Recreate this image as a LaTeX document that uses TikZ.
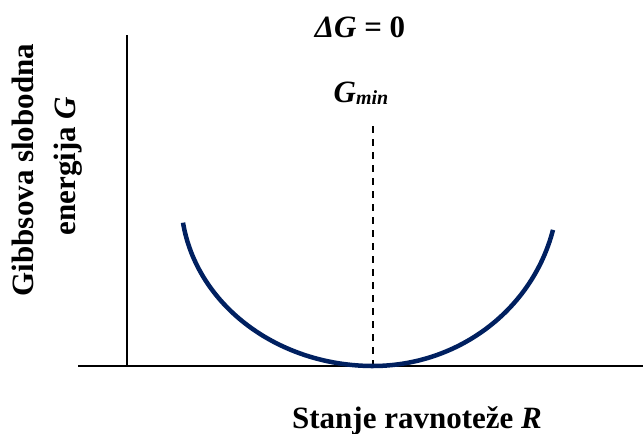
\documentclass[tikz,border=0pt]{standalone}
\usepackage{fontspec}
\setmainfont{Liberation Serif}
\definecolor{curvenavy}{RGB}{0,32,96}
\begin{document}
\begin{tikzpicture}[x=1pt,y=-1pt,
  lbl/.style={font=\fontsize{31}{36}\selectfont\bfseries, inner sep=0pt, anchor=base},
  axisline/.style={line width=1.6pt, black},
  guideline/.style={line width=1.6pt, black, dash pattern=on 7pt off 6pt},
  gcurve/.style={curvenavy, line width=4.5pt}]
\useasboundingbox (0,0) rectangle (643,434);
\coordinate (ytop) at (127,35);
\coordinate (origin) at (127,366);
\coordinate (xl) at (78,366);
\coordinate (xr) at (643,366);
\coordinate (dtop) at (373,126);
\coordinate (dbot) at (373,366);
\draw[axisline] (ytop) -- (origin);
\draw[axisline] (xl) -- (xr);
\draw[guideline] (dtop) -- (dbot);
\draw[gcurve] plot[smooth, domain=171.7:90, samples=50] ({373+192*cos(\x)},{198.5+167.5*sin(\x)})
  -- plot[smooth, domain=90:14, samples=50] ({373+185.5*cos(\x)},{186.4+179.6*sin(\x)});
\node[lbl] (dg) at (360,37) {\textit{ΔG} = 0};
\node[lbl] (gmin) at (361,102) {\textit{G\raisebox{-2pt}{\fontsize{20}{20}\selectfont min}}};
\node[lbl] (xlab) at (417,428) {Stanje ravnoteže \textit{R}};
\node[lbl, rotate=90] (yl1) at (33,170) {Gibbsova slobodna};
\node[lbl, rotate=90] (yl2) at (75,166) {energija \textit{G}};
\end{tikzpicture}
\end{document}
